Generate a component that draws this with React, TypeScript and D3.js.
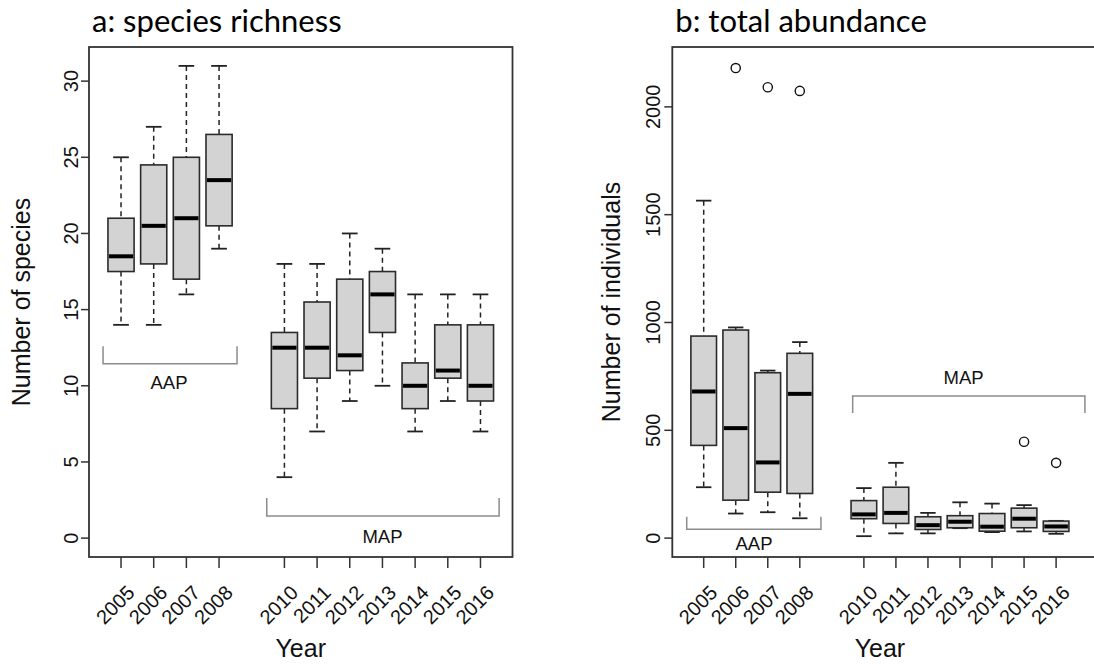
import React from 'react';
import { scaleLinear } from 'd3';

const years = ['2005', '2006', '2007', '2008', '2010', '2011', '2012', '2013', '2014', '2015', '2016'];
const slots = [1, 2, 3, 4, 6, 7, 8, 9, 10, 11, 12];

// a: species richness
const richLow = [14, 14, 16, 19, 4, 7, 9, 10, 7, 9, 7];
const richQ1 = [17.5, 18, 17, 20.5, 8.5, 10.5, 11, 13.5, 8.5, 10.5, 9];
const richMed = [18.5, 20.5, 21, 23.5, 12.5, 12.5, 12, 16, 10, 11, 10];
const richQ3 = [21, 24.5, 25, 26.5, 13.5, 15.5, 17, 17.5, 11.5, 14, 14];
const richHigh = [25, 27, 31, 31, 18, 18, 20, 19, 16, 16, 16];
const richOut: number[][] = [[], [], [], [], [], [], [], [], [], [], []];
const richTicks = [0, 5, 10, 15, 20, 25, 30];

// b: total abundance
const abunLow = [236, 114, 120, 92, 9, 22, 22, 46, 28, 31, 20];
const abunQ1 = [430, 176, 213, 207, 90, 68, 40, 48, 32, 48, 31];
const abunMed = [680, 510, 351, 669, 110, 117, 60, 76, 53, 90, 54];
const abunQ3 = [937, 965, 767, 857, 174, 236, 99, 104, 114, 139, 79];
const abunHigh = [1565, 977, 777, 909, 232, 349, 117, 166, 160, 153, 80];
const abunOut: number[][] = [[], [2180], [2091], [2074], [], [], [], [], [], [447], [349]];
const abunTicks = [0, 500, 1000, 1500, 2000];

// period brackets: x span in slots, line level, tip level, label position
const richBrackets = [
  { label: 'AAP', from: 0.45, to: 4.55, y: 11.45, tip: 12.6, lx: 2.47, ly: 9.8 },
  { label: 'MAP', from: 5.46, to: 12.57, y: 1.45, tip: 2.63, lx: 9.0, ly: -0.3 },
];
const abunBrackets = [
  { label: 'AAP', from: 0.47, to: 4.66, y: 41, tip: 99, lx: 2.57, ly: -56 },
  { label: 'MAP', from: 5.65, to: 12.9, y: 659, tip: 580, lx: 9.11, ly: 714 },
];

const TOP = 47;
const BOTTOM = 557;
const AXIS_FONT = '"Liberation Sans", Arial, sans-serif';

function Panel(props: any) {
  const { title, yLabel, left, right, frameRight, low, q1, med, q3, high, out, ticks, yMax, brackets, labelX } = props;
  const x = scaleLinear().domain([0.02, 12.98]).range([left, right]);
  const ext = yMax * 0.04;
  const y = scaleLinear().domain([-ext, yMax + ext]).range([BOTTOM, TOP]);
  const bw = x(1.4) - x(0.6);
  const sw = bw * 0.6;
  const midY = (TOP + BOTTOM) / 2;

  return (
    <g>
      <text x={left + 3} y={32} fontFamily="Lato, sans-serif" fontSize={31} fill="#000">{title}</text>

      {brackets.map((b: any) => (
        <g key={b.label}>
          <path
            d={`M${x(b.from)},${y(b.tip)}V${y(b.y)}H${x(b.to)}V${y(b.tip)}`}
            fill="none" stroke="#8c8c8c" strokeWidth={1.5} />
          <text x={x(b.lx)} y={y(b.ly)} textAnchor="middle" fontFamily={AXIS_FONT} fontSize={18.5} fill="#111">{b.label}</text>
        </g>
      ))}

      {years.map((yr, i) => {
        const cx = x(slots[i]);
        return (
          <g key={yr}>
            <line x1={cx} x2={cx} y1={y(high[i])} y2={y(q3[i])} stroke="#222" strokeWidth={1.5} strokeDasharray="5,4" />
            <line x1={cx} x2={cx} y1={y(q1[i])} y2={y(low[i])} stroke="#222" strokeWidth={1.5} strokeDasharray="5,4" />
            <line x1={cx - sw / 2} x2={cx + sw / 2} y1={y(high[i])} y2={y(high[i])} stroke="#222" strokeWidth={1.8} />
            <line x1={cx - sw / 2} x2={cx + sw / 2} y1={y(low[i])} y2={y(low[i])} stroke="#222" strokeWidth={1.8} />
            <rect x={cx - bw / 2} y={y(q3[i])} width={bw} height={y(q1[i]) - y(q3[i])}
              fill="#d3d3d3" stroke="#2b2b2b" strokeWidth={1.6} />
            <line x1={cx - bw / 2 + 1} x2={cx + bw / 2 - 1} y1={y(med[i])} y2={y(med[i])} stroke="#000" strokeWidth={4} />
            {out[i].map((o: number, j: number) => (
              <circle key={j} cx={cx} cy={y(o)} r={4.6} fill="none" stroke="#111" strokeWidth={1.4} />
            ))}
          </g>
        );
      })}

      <rect x={left} y={TOP} width={frameRight - left} height={BOTTOM - TOP} fill="none" stroke="#333" strokeWidth={1.8} />

      {ticks.map((t: number) => (
        <g key={t}>
          <line x1={left - 8} x2={left} y1={y(t)} y2={y(t)} stroke="#333" strokeWidth={1.5} />
          <text transform={`translate(${labelX},${y(t)}) rotate(-90)`} textAnchor="middle"
            fontFamily={AXIS_FONT} fontSize={20} fill="#111">{t}</text>
        </g>
      ))}

      {years.map((yr, i) => {
        const cx = x(slots[i]);
        return (
          <g key={'t' + yr}>
            <line x1={cx} x2={cx} y1={BOTTOM} y2={BOTTOM + 11} stroke="#333" strokeWidth={1.5} />
            <text transform={`translate(${cx + 10},${589}) rotate(-45)`} textAnchor="end" dy="0.35em"
              fontFamily={AXIS_FONT} fontSize={20} fill="#111">{yr}</text>
          </g>
        );
      })}

      <text x={(left + right) / 2} y={657} textAnchor="middle" fontFamily={AXIS_FONT} fontSize={25} fill="#111">Year</text>
      <text transform={`translate(${props.yTitleX},${midY}) rotate(-90)`} textAnchor="middle"
        fontFamily={AXIS_FONT} fontSize={25} fill="#111">{yLabel}</text>
    </g>
  );
}

export default function App() {
  return (
    <svg width={1094} height={665} style={{ position: 'absolute', left: 0, top: 0, background: '#fff' }}>
      <rect width={1094} height={665} fill="#fff" />
      <Panel title="a: species richness" yLabel="Number of species"
        left={89} right={512.5} frameRight={512.5} labelX={78} yTitleX={30}
        low={richLow} q1={richQ1} med={richMed} q3={richQ3} high={richHigh} out={richOut}
        ticks={richTicks} yMax={31} brackets={richBrackets} />
      <Panel title="b: total abundance" yLabel="Number of individuals"
        left={672.3} right={1087.5} frameRight={1110} labelX={660} yTitleX={620}
        low={abunLow} q1={abunQ1} med={abunMed} q3={abunQ3} high={abunHigh} out={abunOut}
        ticks={abunTicks} yMax={2190} brackets={abunBrackets} />
    </svg>
  );
}
